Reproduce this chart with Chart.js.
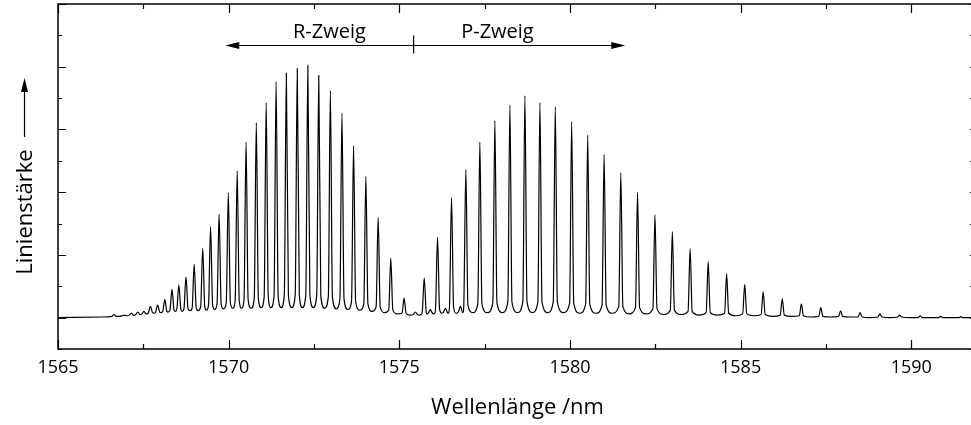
<!DOCTYPE html>
<html>
<head>
<meta charset="utf-8">
<script src="https://cdn.jsdelivr.net/npm/chart.js@4.4.0/dist/chart.umd.min.js"></script>
<style>
  html, body { margin: 0; padding: 0; background: #fff; }
</style>
</head>
<body>
<canvas id="spectrum-chart" width="971" height="425" style="width:971px;height:425px"></canvas>
<script>
// line positions (nm), peak heights and the level at the foot of each line
const lineNm = [
  1566.64, 1566.95, 1567.15, 1567.34, 1567.52, 1567.71, 1567.92, 1568.13, 1568.34, 1568.54,
  1568.75, 1568.99, 1569.24, 1569.47, 1569.72, 1569.99, 1570.25, 1570.51, 1570.81, 1571.10,
  1571.39, 1571.69, 1572.01, 1572.32, 1572.64, 1572.98, 1573.32, 1573.66, 1574.02, 1574.38,
  1574.75, 1575.14, 1575.47, 1575.73, 1575.91, 1576.12, 1576.35, 1576.53, 1576.79, 1576.95,
  1577.36, 1577.80, 1578.24, 1578.68, 1579.12, 1579.57, 1580.05, 1580.52, 1581.00, 1581.49,
  1581.98, 1582.49, 1583.00, 1583.52, 1584.05, 1584.59, 1585.12, 1585.66, 1586.22, 1586.78,
  1587.35, 1587.93, 1588.50, 1589.08, 1589.66, 1590.26, 1590.86, 1591.45
];
const lineTop = [
  0.05, 0.04, 0.07, 0.09, 0.10, 0.18, 0.20, 0.29, 0.45, 0.52,
  0.65, 0.85, 1.11, 1.45, 1.65, 1.99, 2.34, 2.80, 3.11, 3.43,
  3.76, 3.90, 3.97, 4.02, 3.86, 3.62, 3.26, 2.74, 2.25, 1.60,
  0.95, 0.31, 0.09, 0.63, 0.13, 1.28, 0.15, 1.91, 0.18, 2.36,
  2.80, 3.14, 3.39, 3.54, 3.43, 3.36, 3.12, 2.91, 2.60, 2.31,
  2.00, 1.64, 1.37, 1.10, 0.89, 0.70, 0.53, 0.41, 0.30, 0.22,
  0.16, 0.11, 0.08, 0.06, 0.04, 0.03, 0.02, 0.015
];
const lineFoot = [
  0.02, 0.03, 0.04, 0.05, 0.06, 0.08, 0.09, 0.10, 0.12, 0.13,
  0.14, 0.15, 0.17, 0.20, 0.22, 0.24, 0.27, 0.29, 0.31, 0.33,
  0.35, 0.36, 0.36, 0.36, 0.35, 0.33, 0.30, 0.26, 0.22, 0.17,
  0.12, 0.07, 0.05, 0.08, 0.07, 0.13, 0.08, 0.17, 0.09, 0.20,
  0.22, 0.24, 0.25, 0.26, 0.25, 0.25, 0.23, 0.22, 0.20, 0.18,
  0.16, 0.14, 0.12, 0.10, 0.08, 0.07, 0.06, 0.05, 0.04, 0.03,
  0.02, 0.02, 0.01, 0.01, 0.01, 0.00, 0.00, 0.00
];
// minima between the lines
const valleyNm = [
  1565.00, 1566.30,
  1566.79, 1567.05, 1567.25, 1567.43, 1567.61, 1567.82, 1568.02, 1568.23, 1568.44, 1568.64,
  1568.87, 1569.11, 1569.35, 1569.59, 1569.85, 1570.12, 1570.38, 1570.66, 1570.95, 1571.24,
  1571.54, 1571.85, 1572.16, 1572.48, 1572.81, 1573.15, 1573.49, 1573.84, 1574.20, 1574.56,
  1574.94, 1575.30, 1575.60, 1575.82, 1576.02, 1576.24, 1576.44, 1576.66, 1576.87, 1577.15,
  1577.58, 1578.02, 1578.46, 1578.90, 1579.35, 1579.81, 1580.28, 1580.76, 1581.24, 1581.73,
  1582.23, 1582.74, 1583.26, 1583.78, 1584.32, 1584.85, 1585.39, 1585.94, 1586.50, 1587.06,
  1587.64, 1588.21, 1588.79, 1589.37, 1589.96, 1590.56, 1591.15,
  1591.75
];
const valleyLevel = [
  0.00, 0.01,
  0.02, 0.03, 0.04, 0.05, 0.06, 0.07, 0.08, 0.09, 0.10, 0.10,
  0.11, 0.11, 0.12, 0.13, 0.14, 0.15, 0.15, 0.15, 0.16, 0.16,
  0.16, 0.16, 0.16, 0.16, 0.15, 0.14, 0.13, 0.12, 0.10, 0.08,
  0.06, 0.04, 0.04, 0.06, 0.06, 0.07, 0.07, 0.07, 0.08, 0.08,
  0.08, 0.08, 0.08, 0.08, 0.08, 0.08, 0.07, 0.07, 0.07, 0.06,
  0.06, 0.05, 0.05, 0.04, 0.04, 0.03, 0.03, 0.02, 0.02, 0.01,
  0.01, 0.01, 0.00, 0.00, 0.00, 0.00, 0.00,
  0.00
];
const xTickValues = [1565, 1570, 1575, 1580, 1585, 1590];
const branchNames = ['R-Zweig', 'P-Zweig'];

const LINE_HALF_WIDTH = 0.06; // nm, foot of each line
const FONT = "'Open Sans', 'Noto Sans', sans-serif";

function buildPoints() {
  const pts = [];
  lineNm.forEach((nm, i) => {
    pts.push({ x: nm - LINE_HALF_WIDTH, y: lineFoot[i] });
    pts.push({ x: nm, y: lineTop[i] });
    pts.push({ x: nm + LINE_HALF_WIDTH, y: lineFoot[i] });
  });
  valleyNm.forEach((nm, i) => pts.push({ x: nm, y: valleyLevel[i] }));
  return pts.sort((a, b) => a.x - b.x);
}

// arrow for the branches, origin mark in between
const branchArrow = { from: 1569.9, origin: 1575.42, to: 1581.62, y: 4.35, textY: 4.46 };

const framePlugin = {
  id: 'frame',
  afterDraw(chart) {
    const { ctx, chartArea: a, scales: { x, y } } = chart;
    ctx.save();
    ctx.strokeStyle = '#000';
    ctx.fillStyle = '#000';
    ctx.lineWidth = 1.5;
    ctx.beginPath();
    ctx.moveTo(a.right + 2, a.top); ctx.lineTo(a.left, a.top);
    ctx.lineTo(a.left, a.bottom); ctx.lineTo(a.right + 2, a.bottom);
    ctx.stroke();

    ctx.lineWidth = 1.2;
    ctx.beginPath();
    for (let v = 1565; v <= x.max; v += 2.5) {
      const px = Math.round(x.getPixelForValue(v)) + 0.5;
      const len = v % 5 === 0 ? 9 : 5;
      ctx.moveTo(px, a.bottom); ctx.lineTo(px, a.bottom - len);
      ctx.moveTo(px, a.top); ctx.lineTo(px, a.top + len);
    }
    for (let v = -0.5; v <= 5; v += 0.5) {
      const py = Math.round(y.getPixelForValue(v)) + 0.5;
      const len = Number.isInteger(v) ? 8 : 4;
      ctx.moveTo(a.left, py); ctx.lineTo(a.left + len, py);
      ctx.moveTo(a.right + 1, py); ctx.lineTo(a.right - 1, py);
    }
    ctx.stroke();

    // branch arrow
    const x0 = x.getPixelForValue(branchArrow.from);
    const x1 = x.getPixelForValue(branchArrow.to);
    const xm = x.getPixelForValue(branchArrow.origin);
    const ya = Math.round(y.getPixelForValue(branchArrow.y)) + 0.5;
    ctx.lineWidth = 1.2;
    ctx.beginPath();
    ctx.moveTo(x0 + 6, ya); ctx.lineTo(x1 - 6, ya);
    ctx.moveTo(xm, ya - 10); ctx.lineTo(xm, ya + 8);
    ctx.stroke();
    ctx.beginPath();
    ctx.moveTo(x0, ya); ctx.lineTo(x0 + 14, ya - 3.5); ctx.lineTo(x0 + 14, ya + 3.5); ctx.closePath();
    ctx.moveTo(x1, ya); ctx.lineTo(x1 - 14, ya - 3.5); ctx.lineTo(x1 - 14, ya + 3.5); ctx.closePath();
    ctx.fill();

    ctx.font = '20px ' + FONT;
    ctx.textAlign = 'center';
    ctx.textBaseline = 'alphabetic';
    const ty = y.getPixelForValue(branchArrow.textY);
    ctx.fillText(branchNames[0], (x0 + xm) / 2 + 10, ty);
    ctx.fillText(branchNames[1], (xm + x1) / 2 - 22, ty);

    // axis titles
    ctx.font = '22px ' + FONT;
    ctx.fillText('Wellenlänge /nm', (a.left + a.right) / 2 + 3, 414);

    ctx.save();
    ctx.translate(32, 212);
    ctx.rotate(-Math.PI / 2);
    ctx.fillText('Linienstärke', 0, 0);
    ctx.restore();
    ctx.beginPath();
    ctx.moveTo(24.5, 137); ctx.lineTo(24.5, 90);
    ctx.stroke();
    ctx.beginPath();
    ctx.moveTo(24.5, 78); ctx.lineTo(21, 92); ctx.lineTo(28, 92); ctx.closePath();
    ctx.fill();
    ctx.restore();
  }
};

const ctx = document.getElementById('spectrum-chart').getContext('2d');
const chart = new Chart(ctx, {
  type: 'line',
  data: {
    datasets: [{
      data: buildPoints(),
      borderColor: '#000',
      borderWidth: 1.2,
      pointRadius: 0,
      fill: false,
      cubicInterpolationMode: 'monotone'
    }]
  },
  options: {
    responsive: false,
    animation: false,
    parsing: false,
    layout: { padding: { top: 4, right: 0, left: 0, bottom: 0 } },
    plugins: { legend: { display: false }, tooltip: { enabled: false } },
    scales: {
      x: {
        type: 'linear',
        min: 1565,
        max: 1591.75,
        afterBuildTicks: scale => { scale.ticks = xTickValues.map(v => ({ value: v })); },
        afterFit: scale => { scale.height = 76; },
        ticks: {
          color: '#000',
          font: { family: FONT, size: 18 },
          padding: 8,
          maxRotation: 0,
          autoSkip: false,
          callback: v => String(v)
        },
        grid: { display: false, drawTicks: false },
        border: { display: false }
      },
      y: {
        min: -0.5,
        max: 5,
        afterFit: scale => { scale.width = 58; },
        ticks: { display: false },
        grid: { display: false, drawTicks: false },
        border: { display: false }
      }
    }
  },
  plugins: [framePlugin]
});
</script>
</body>
</html>
